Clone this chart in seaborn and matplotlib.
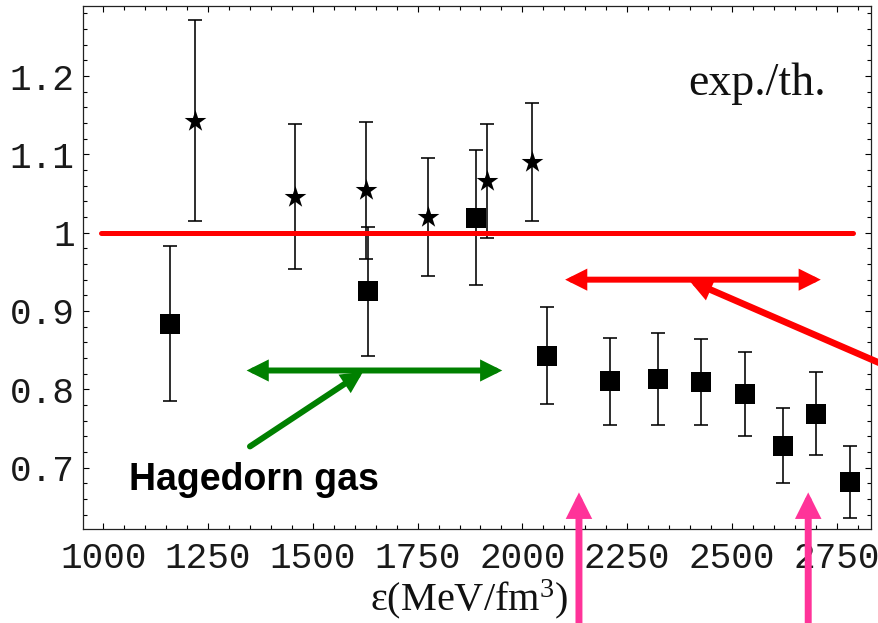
import matplotlib
matplotlib.use("Agg")
import matplotlib.pyplot as plt
from matplotlib.ticker import MultipleLocator
from matplotlib.patches import ArrowStyle
import pandas as pd
import seaborn as sns

# exp./th. ratio versus energy density, two data sets
star_energy = [1219, 1457, 1627, 1774, 1916, 2022]
star_ratio = [1.143, 1.046, 1.054, 1.020, 1.066, 1.090]
star_err = [0.128, 0.093, 0.087, 0.075, 0.073, 0.075]

square_energy = [1159, 1632, 1889, 2058, 2209, 2324, 2426, 2530, 2621, 2700, 2782]
square_ratio = [0.884, 0.925, 1.019, 0.843, 0.810, 0.813, 0.809, 0.794, 0.728, 0.769, 0.682]
square_err = [0.099, 0.082, 0.086, 0.062, 0.056, 0.059, 0.055, 0.054, 0.048, 0.053, 0.046]

# reference level exp. = th.
ref_level = 1.0
ref_span = [995, 2790]

x_ticks = [1000, 1250, 1500, 1750, 2000, 2250, 2500, 2750]
x_tick_labels = ["1000", "1250", "1500", "1750", "2000", "2250", "2500", "2750"]
y_ticks = [0.7, 0.8, 0.9, 1.0, 1.1, 1.2]
y_tick_labels = ["0.7", "0.8", "0.9", "1", "1.1", "1.2"]

stars = pd.DataFrame({"energy": star_energy, "ratio": star_ratio})
squares = pd.DataFrame({"energy": square_energy, "ratio": square_ratio})

sns.set_theme(style="ticks")
plt.rcParams["font.family"] = ["Liberation Mono", "DejaVu Sans"]
plt.rcParams["mathtext.fontset"] = "custom"
plt.rcParams["mathtext.rm"] = "Liberation Serif"
plt.rcParams["mathtext.it"] = "Liberation Serif:italic"

fig = plt.figure(figsize=(8.79, 6.23), dpi=100)
ax = fig.add_axes([0.0944, 0.1509, 0.8965, 0.8395])

# error bars
ax.errorbar(star_energy, star_ratio, yerr=star_err, fmt="none", ecolor="black",
            elinewidth=1.15, capsize=4.7, capthick=1.15, zorder=2)
ax.errorbar(square_energy, square_ratio, yerr=square_err, fmt="none", ecolor="black",
            elinewidth=1.15, capsize=4.7, capthick=1.15, zorder=2)

# reference line
ax.plot(ref_span, [ref_level, ref_level], color="red", lw=3.6,
        solid_capstyle="round", zorder=3)

# markers
sns.scatterplot(data=stars, x="energy", y="ratio", marker="*", s=270,
                color="black", linewidth=0, ax=ax, zorder=4)
sns.scatterplot(data=squares, x="energy", y="ratio", marker="s", s=190,
                color="black", linewidth=0, ax=ax, zorder=4)

ax.set_xlim(951.6, 2831.8)
ax.set_ylim(0.6216, 1.2895)
ax.set_xticks(x_ticks, x_tick_labels)
ax.set_yticks(y_ticks, y_tick_labels)
ax.xaxis.set_minor_locator(MultipleLocator(50))
ax.yaxis.set_minor_locator(MultipleLocator(0.02))
ax.tick_params(which="both", direction="in", top=True, right=True,
               width=0.8, color="black", labelsize=26, labelcolor="#1a1a1a")
ax.tick_params(which="major", length=4.5)
ax.tick_params(which="minor", length=3)
ax.tick_params(axis="x", which="major", pad=9)
ax.tick_params(axis="y", which="major", pad=6)
for s in ax.spines.values():
    s.set_linewidth(0.9)
    s.set_color("#222222")

ax.set_xlabel(r"ε(MeV/fm$^{3}$)", fontfamily=["Liberation Serif", "DejaVu Serif"],
              fontsize=29, color="#111111")
ax.xaxis.set_label_coords(0.49, -0.156)
ax.xaxis.label.set_va("baseline")
ax.set_ylabel("")

ax.text(0.7678, 0.8298, "exp./th.", transform=ax.transAxes,
        fontfamily=["Liberation Serif", "DejaVu Serif"], fontsize=33,
        ha="left", va="baseline", color="#111111")
ax.text(0.059, 0.0746, "Hagedorn gas", transform=ax.transAxes,
        fontfamily=["Liberation Sans", "DejaVu Sans"], fontweight="bold",
        fontsize=27, ha="left", va="baseline", color="black")


def draw_arrow(tail, head, color, lw, hl, hw, style="-|>",
               tailcoords="data", zorder=5):
    ax.annotate("", xy=head, xytext=tail, xycoords="data", textcoords=tailcoords,
                arrowprops=dict(arrowstyle=ArrowStyle(style, head_length=hl, head_width=hw),
                                color=color, lw=lw, shrinkA=0, shrinkB=0,
                                mutation_scale=1, joinstyle="miter"),
                annotation_clip=False, zorder=zorder)


green = "#008000"
red = "#ff0000"
pink = "#ff3399"

# Hagedorn gas range and pointer
draw_arrow((1342, 0.824), (1952, 0.824), green, 4.3, 9, 4.5, style="<|-|>")
draw_arrow((1350, 0.727), (1620, 0.8225), green, 4.3, 9, 4.5)

# upper range and pointer coming in from the right
draw_arrow((2102, 0.940), (2712, 0.940), red, 4.3, 9, 4.5, style="<|-|>")
draw_arrow((905, 249), (2398, 0.939), red, 4.8, 9, 4.5, tailcoords="figure pixels")

# vertical markers from below
draw_arrow((2135, -0.05), (2135, 0.6683), pink, 5.0, 11, 5.5,
           tailcoords=("data", "figure fraction"), zorder=6)
draw_arrow((2682, -0.05), (2682, 0.6683), pink, 5.0, 11, 5.5,
           tailcoords=("data", "figure fraction"), zorder=6)

fig.savefig("out.png", dpi=100)
